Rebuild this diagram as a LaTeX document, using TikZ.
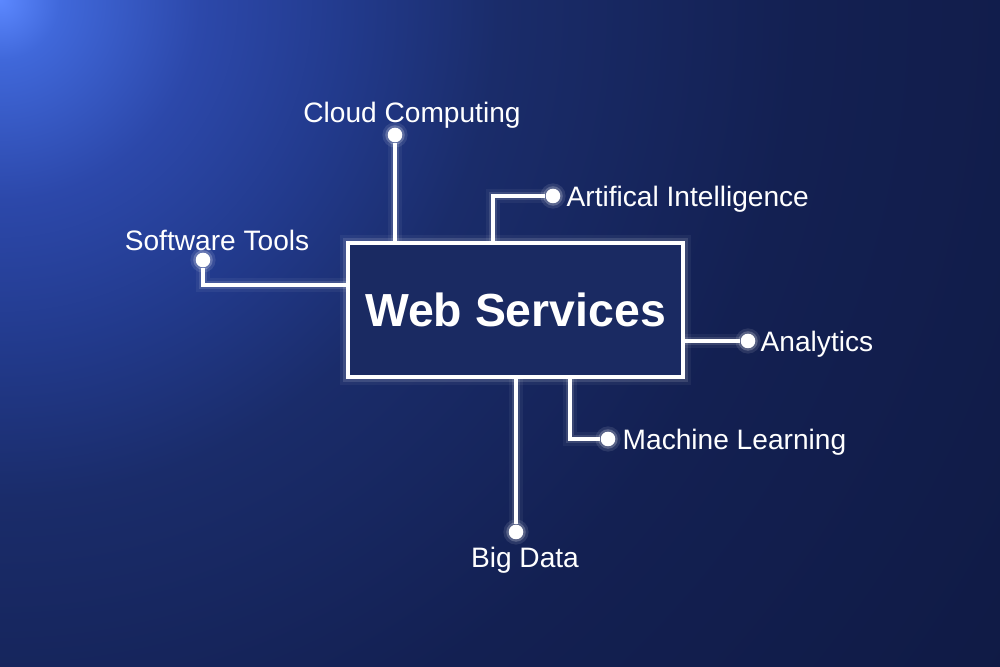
\documentclass[tikz,border=0pt]{standalone}
\usepackage{fontspec}
\setmainfont{Liberation Sans}
\definecolor{bgA}{HTML}{5C88FF}
\definecolor{bgB}{HTML}{4068DA}
\definecolor{bgC}{HTML}{2C48AA}
\definecolor{bgD}{HTML}{223A8C}
\definecolor{bgE}{HTML}{1A2C6A}
\definecolor{bgF}{HTML}{132052}
\definecolor{bgG}{HTML}{0F1942}
\definecolor{boxfill}{HTML}{1A2A62}
\pgfdeclareradialshading{bgshade}{\pgfpoint{0bp}{0bp}}{color(0bp)=(bgA); color(1.15bp)=(bgB); color(3.85bp)=(bgC); color(6.7bp)=(bgD); color(9.6bp)=(bgE); color(15.4bp)=(bgF); color(25bp)=(bgG); color(50bp)=(bgG)}
\tikzset{
  wire/.style={draw=white, line width=1.1pt, line join=miter, line cap=butt,
    preaction={draw=white, line width=4pt, draw opacity=0.05},
    preaction={draw=white, line width=2.4pt, draw opacity=0.12}},
  dot/.style={circle, fill=white, inner sep=0pt, minimum size=1.45mm,
    preaction={draw=white, line width=3pt, draw opacity=0.10},
    preaction={draw=white, line width=1.4pt, draw opacity=0.22}},
  lbl/.style={text=white, inner sep=0pt, font=\fontsize{8}{10}\selectfont},
  wsbox/.style={draw=white, line width=1.2pt, fill=boxfill, minimum width=33.5mm, minimum height=13.4mm, inner sep=0pt,
    text=white, font=\bfseries\fontsize{13.2}{15}\selectfont,
    preaction={draw=white, line width=4.4pt, draw opacity=0.05},
    preaction={draw=white, line width=2.6pt, draw opacity=0.12}}
}
\begin{document}
\begin{tikzpicture}[x=0.1mm,y=-0.1mm]
\useasboundingbox (0,0) rectangle (1000,667);
\begin{scope}
\clip (0,0) rectangle (1000,667);
\fill[bgG] (0,0) rectangle (1000,667);
\shade[shading=bgshade] (0,0) circle (1300);
\end{scope}
% knee coordinates
\coordinate (aik) at (493,196);
\coordinate (swk) at (203,285);
\coordinate (mlk) at (570,439);
% dots and box
\node[dot] (cc) at (395,135) {};
\node[dot] (ai) at (553,196) {};
\node[dot] (sw) at (203,260) {};
\node[dot] (an) at (748,341) {};
\node[dot] (ml) at (608,439) {};
\node[dot] (bd) at (516,532) {};
\node[wsbox] (ws) at (515.5,310) {Web Services};
% wires
\draw[wire] (cc) -- (cc |- ws.north);
\draw[wire] (ws.north -| aik) -- (aik) -- (ai);
\draw[wire] (sw) -- (swk) -- (swk -| ws.west);
\draw[wire] (ws.east |- an) -- (an);
\draw[wire] (ws.south -| mlk) -- (mlk) -- (ml);
\draw[wire] (ws.south -| bd) -- (bd);
% redraw dots on top
\foreach \d in {cc,ai,sw,an,ml,bd} \fill[white] (\d) circle (7);
% labels
\node[lbl] (lcc) at (412,115) {Cloud Computing};
\node[lbl, anchor=west] (lai) at (566,199) {Artifical Intelligence};
\node[lbl] (lsw) at (217,240) {Software Tools};
\node[lbl, anchor=west] (lan) at (760,344) {Analytics};
\node[lbl, anchor=west] (lml) at (622,442) {Machine Learning};
\node[lbl] (lbd) at (525,560) {Big Data};
\end{tikzpicture}
\end{document}
